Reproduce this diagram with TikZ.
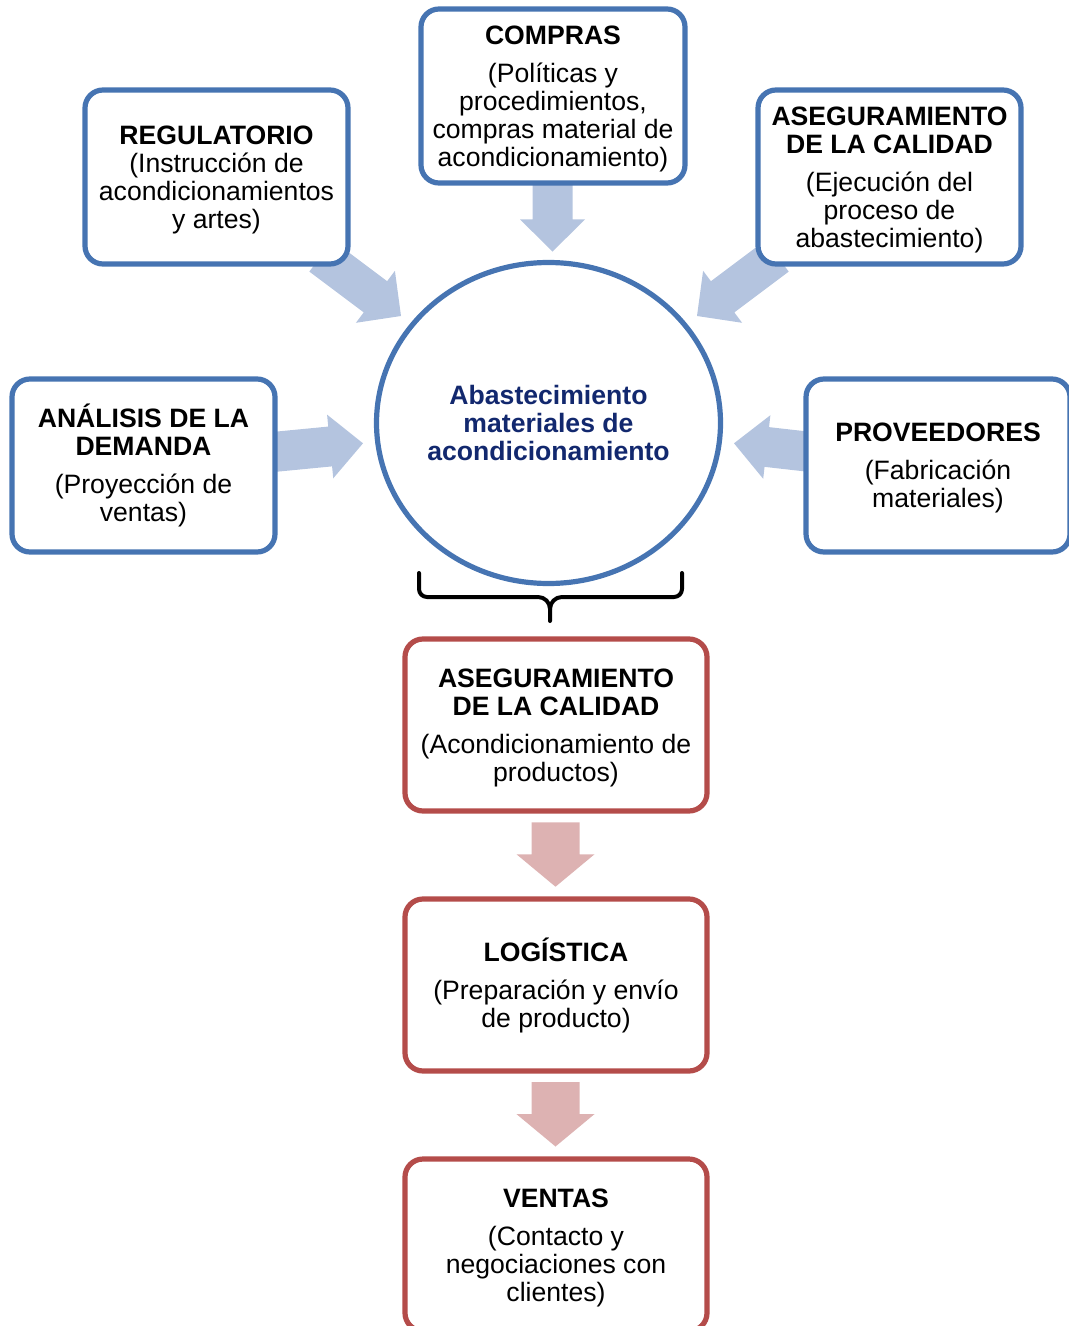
\documentclass[tikz,border=0pt]{standalone}
\usepackage{fontspec}
\setmainfont{Liberation Sans}
\usetikzlibrary{calc,shapes.geometric}
\definecolor{bline}{RGB}{70,116,178}
\definecolor{barr}{RGB}{180,196,223}
\definecolor{rline}{RGB}{180,76,74}
\definecolor{rarr}{RGB}{221,178,178}
\definecolor{navy}{RGB}{18,40,110}
% #1 start, #2 tip, #3 half shaft width, #4 half head width, #5 head length, #6 fill colour
\newcommand\blockarrow[6]{%
  \coordinate (bab) at ($(#2)!#5!(#1)$);
  \fill[#6] ($(#1)!#3!90:(#2)$) -- ($(bab)!#3!90:(#2)$) -- ($(bab)!#4!90:(#2)$)
    -- (#2) -- ($(bab)!#4!-90:(#2)$) -- ($(bab)!#3!-90:(#2)$)
    -- ($(#1)!#3!-90:(#2)$) -- cycle;}
\newcommand\tstrut{\rule{0pt}{12pt}}
\begin{document}
\begin{tikzpicture}[x=0.5pt,y=-0.5pt,
  box/.style={draw=bline, line width=2.6pt, fill=white, rounded corners=9pt,
    minimum width=131.5pt, minimum height=87pt, align=center, inner sep=0pt,
    font=\fontsize{13.3pt}{14pt}\selectfont},
  rbox/.style={box, draw=rline, minimum width=151pt, minimum height=86pt},
  bracestyle/.style={draw=black, line width=2pt, line cap=round, line join=round}
]
\useasboundingbox (0,0) rectangle (1069,1326);
\clip (0,0) rectangle (1069,1326);

% arrow coordinates
\coordinate (regS) at (321,256);   \coordinate (regT) at (401,316);
\coordinate (aqS) at (777,256);    \coordinate (aqT) at (697,316);
\coordinate (anS) at (270,452.3);  \coordinate (anT) at (363,443.3);
\coordinate (prS) at (811,452);    \coordinate (prT) at (734,443.3);
\coordinate (coS) at (552.5,180);  \coordinate (coT) at (552.5,251.7);
\coordinate (r1S) at (555.5,822.3); \coordinate (r1T) at (555.5,886.7);
\coordinate (r2S) at (555.5,1082);  \coordinate (r2T) at (555.5,1146.5);

\blockarrow{regS}{regT}{9.75pt}{16.25pt}{16pt}{barr}
\blockarrow{aqS}{aqT}{9.75pt}{16.25pt}{16pt}{barr}
\blockarrow{anS}{anT}{10pt}{16pt}{16.5pt}{barr}
\blockarrow{prS}{prT}{10pt}{16pt}{16.5pt}{barr}
\blockarrow{coS}{coT}{10pt}{16.25pt}{16.2pt}{barr}
\blockarrow{r1S}{r1T}{12pt}{19.5pt}{16.2pt}{rarr}
\blockarrow{r2S}{r2T}{12pt}{19.5pt}{16.2pt}{rarr}

% blue boxes
\node[box] (reg) at (216.5,177) {\tstrut\textbf{REGULATORIO}\\(Instrucción de\\acondicionamientos\\y artes)};
\node[box, minimum width=132pt] (compras) at (553,96) {\tstrut\textbf{COMPRAS}\\[5pt](Políticas y\\procedimientos,\\compras material de\\acondicionamiento)};
\node[box] (aseg1) at (889.5,177) {\tstrut\textbf{ASEGURAMIENTO}\\\textbf{DE LA CALIDAD}\\[5pt](Ejecución del\\proceso de\\abastecimiento)};
\node[box, minimum height=86.5pt] (analisis) at (143.5,465.5) {\textbf{ANÁLISIS DE LA}\\\textbf{DEMANDA}\\[5pt](Proyección de\\ventas)};
\node[box, minimum width=132pt, minimum height=86.5pt] (prov) at (938,465.5) {\tstrut\textbf{PROVEEDORES}\\[5pt](Fabricación\\materiales)};

% central ellipse
\node[ellipse, draw=bline, line width=2.6pt, minimum width=172pt, minimum height=160.5pt,
  inner sep=0pt, align=center, text=navy, font=\fontsize{13.3pt}{14pt}\selectfont\bfseries]
  (abast) at (548.5,423) {Abastecimiento\\materiales de\\acondicionamiento};

% brace
\draw[bracestyle] (419,573) -- (419,589) to[out=-90,in=180] (427,597) -- (538,597)
  to[out=0,in=90] (550,609) -- (550,621);
\draw[bracestyle] (682,573) -- (682,589) to[out=-90,in=0] (674,597) -- (562,597)
  to[out=180,in=90] (550,609);

% red boxes
\node[rbox] (aseg2) at (556,725) {\tstrut\textbf{ASEGURAMIENTO}\\\textbf{DE LA CALIDAD}\\[5pt](Acondicionamiento de\\productos)};
\node[rbox] (log) at (556,985) {\textbf{LOGÍSTICA}\\[5pt](Preparación y envío\\de producto)};
\node[rbox] (ventas) at (556,1245) {\tstrut\textbf{VENTAS}\\[5pt](Contacto y\\negociaciones con\\clientes)};
\end{tikzpicture}
\end{document}
